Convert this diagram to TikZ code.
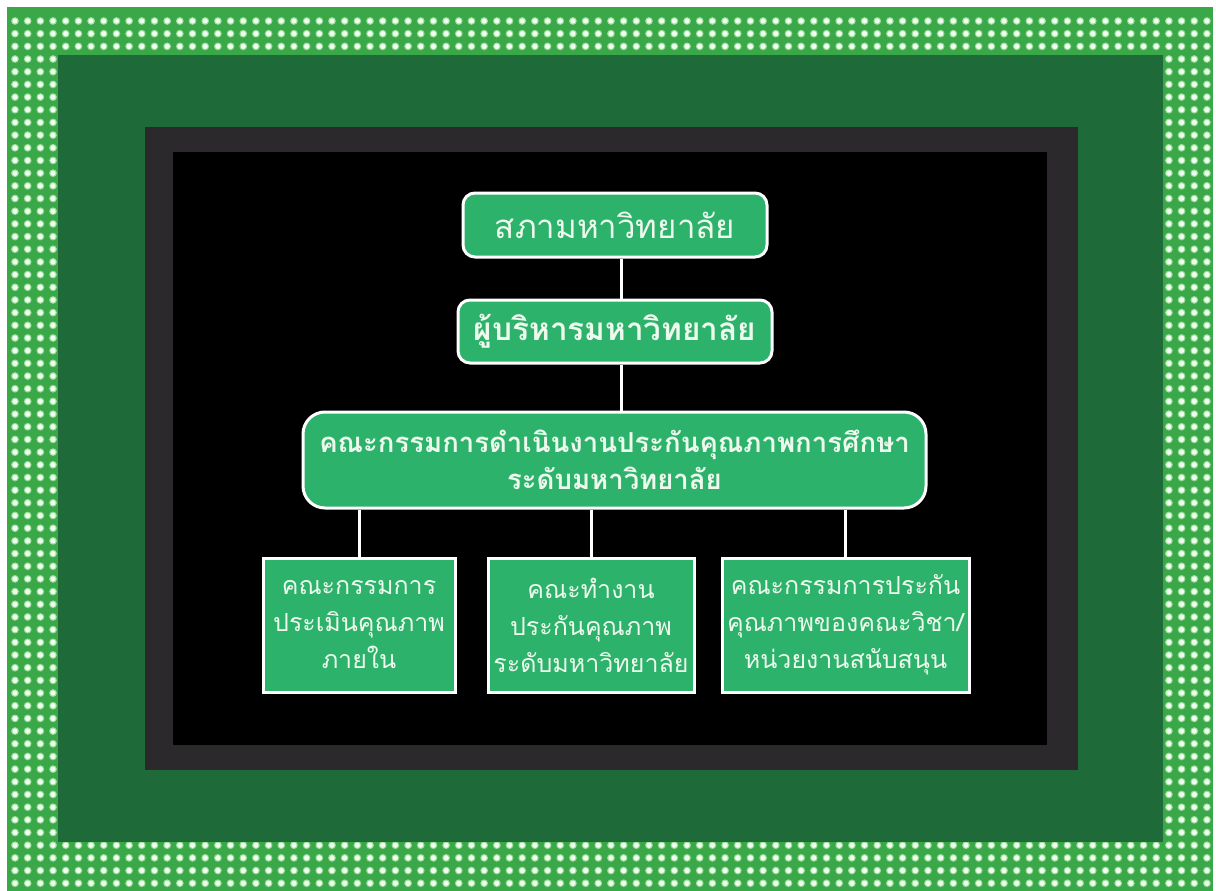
\documentclass[tikz,border=0pt]{standalone}
\usepackage{fontspec}
\newfontfamily\thaifont[Script=Thai]{Loma}
\definecolor{dotgreen}{RGB}{58,168,72}
\definecolor{darkgreen}{RGB}{30,106,56}
\definecolor{framegrey}{RGB}{43,41,43}
\definecolor{boxgreen}{RGB}{45,178,108}
\definecolor{dothalo}{RGB}{150,220,150}
\definecolor{dotwhite}{RGB}{240,252,240}
\definecolor{txt}{RGB}{236,249,236}
\tikzset{
  orgbox/.style={draw=white, line width=3pt, fill=boxgreen, text=txt, align=center, inner sep=0pt},
  roundbox/.style={orgbox, rounded corners=12pt},
  biground/.style={orgbox, rounded corners=22pt},
  conn/.style={draw=white, line width=3pt},
}
\newcommand{\mydot}[2]{%
  \fill[dothalo] (15+12.68*#1, 21+12.68*#2) circle (3.9);
  \fill[dotwhite] (15+12.68*#1, 21+12.68*#2) circle (2.7);}
\begin{document}
\begin{tikzpicture}[x=1pt,y=-1pt]
\useasboundingbox (0,0) rectangle (1216,891);
\fill[white] (0,0) rectangle (1216,891);
% dotted border
\fill[dotgreen] (7,7) rectangle (1213,891);
\foreach \i in {0,...,94}{\foreach \j in {0,1,2,65,66,67,68}{\mydot{\i}{\j}}}
\foreach \i in {0,1,2,3,91,92,93,94}{\foreach \j in {3,...,64}{\mydot{\i}{\j}}}
\fill[darkgreen] (58,55) rectangle (1163,842);
\fill[framegrey] (145,127) rectangle (1078,770);
\fill[black] (173,152) rectangle (1047,745);

\node[roundbox, minimum width=304pt, minimum height=64pt,
  font=\thaifont\fontsize{33}{36}\selectfont] (top) at (615,225) {สภามหาวิทยาลัย};
\node[roundbox, minimum width=314pt, minimum height=63pt,
  font=\thaifont\bfseries\fontsize{31.5}{36}\selectfont] (exec) at (615,331.5) {ผู้บริหารมหาวิทยาลัย};
\node[biground, minimum width=623pt, minimum height=96pt,
  font=\thaifont\bfseries\fontsize{27.5}{37}\selectfont] (comm) at (614.5,460)
  {คณะกรรมการดำเนินงานประกันคุณภาพการศึกษา\\ระดับมหาวิทยาลัย};
\node[orgbox, minimum width=192pt, minimum height=134pt,
  font=\thaifont\fontsize{25}{37}\selectfont] (b1) at (359,625)
  {คณะกรรมการ\\ประเมินคุณภาพ\\ภายใน};
\node[orgbox, minimum width=206pt, minimum height=134pt,
  font=\thaifont\fontsize{25}{37}\selectfont] (b2) at (591,625)
  {คณะทำงาน\\ประกันคุณภาพ\\ระดับมหาวิทยาลัย};
\node[orgbox, minimum width=247pt, minimum height=134pt,
  font=\thaifont\fontsize{25}{37}\selectfont] (b3) at (845.5,625)
  {คณะกรรมการประกัน\\คุณภาพของคณะวิชา/\\หน่วยงานสนับสนุน};

\draw[conn] ([xshift=6pt]top.south) -- ([xshift=6pt]exec.north);
\draw[conn] ([xshift=6pt]exec.south) -- ([xshift=6pt]exec.south |- comm.north);
\draw[conn] (b1.north) -- (b1.north |- comm.south);
\draw[conn] (b2.north) -- (b2.north |- comm.south);
\draw[conn] (b3.north) -- (b3.north |- comm.south);
\end{tikzpicture}
\end{document}
